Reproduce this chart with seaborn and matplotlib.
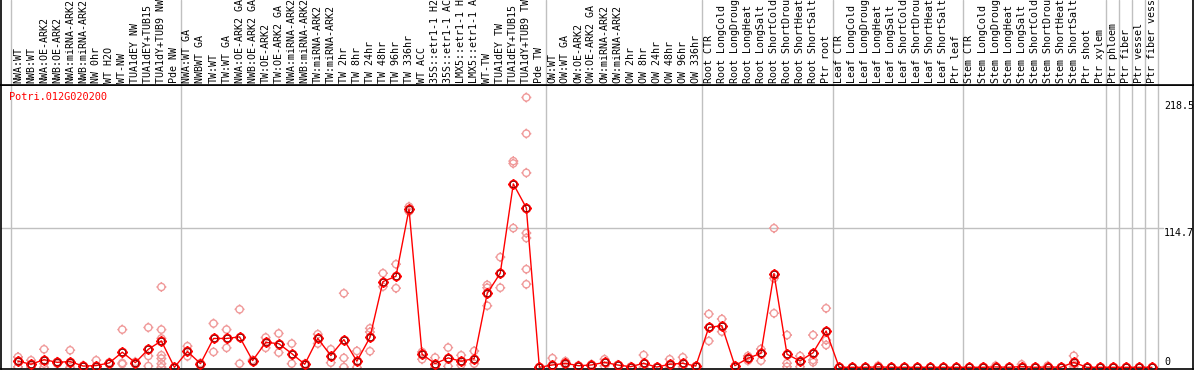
import matplotlib
matplotlib.use("Agg")
import numpy as np
import pandas as pd
import matplotlib.pyplot as plt
from matplotlib.path import Path
import seaborn as sns

gene = "Potri.012G020200"

samples = [
    "NWA:WT", "NWB:WT", "NWA:OE-ARK2", "NWB:OE-ARK2", "NWA:miRNA-ARK2", "NWB:miRNA-ARK2",
    "NW 0hr", "WT H2O", "WT-NW", "TUA1dEY NW", "TUA1dEY+TUB15 NW", "TUA1dY+TUB9 NW", "Pde NW",
    "NWA:WT GA", "NWBWT GA", "TW:WT", "TW:WT GA", "NWA:OE-ARK2 GA", "NWB:OE-ARK2 GA",
    "TW:OE-ARK2", "TW:OE-ARK2 GA", "NWA:miRNA-ARK2 GA", "NWB:miRNA-ARK2 GA", "TW:miRNA-ARK2",
    "TW:miRNA-ARK2", "TW 2hr", "TW 8hr", "TW 24hr", "TW 48hr", "TW 96hr", "TW 336hr", "WT ACC",
    "35S::etr1-1 H2O", "35S::etr1-1 ACC", "LMX5::etr1-1 H2O", "LMX5::etr1-1 ACC", "WT-TW",
    "TUA1dEY TW", "TUA1dEY+TUB15 TW", "TUA1dY+TUB9 TW", "Pde TW",
    "OW:WT", "OW:WT GA", "OW:OE-ARK2", "OW:OE-ARK2 GA", "OW:miRNA-ARK2", "OW:miRNA-ARK2",
    "OW 2hr", "OW 8hr", "OW 24hr", "OW 48hr", "OW 96hr", "OW 336hr",
    "Root CTR", "Root LongCold", "Root LongDrought", "Root LongHeat", "Root LongSalt",
    "Root ShortCold", "Root ShortDrought", "Root ShortHeat", "Root ShortSalt", "Ptr root",
    "Leaf CTR", "Leaf LongCold", "Leaf LongDrought", "Leaf LongHeat", "Leaf LongSalt",
    "Leaf ShortCold", "Leaf ShortDrought", "Leaf ShortHeat", "Leaf ShortSalt", "Ptr leaf",
    "Stem CTR", "Stem LongCold", "Stem LongDrought", "Stem LongHeat", "Stem LongSalt",
    "Stem ShortCold", "Stem ShortDrought", "Stem ShortHeat", "Stem ShortSalt", "Ptr shoot",
    "Ptr xylem", "Ptr phloem", "Ptr fiber", "Ptr vessel", "Ptr fiber vessel",
]

means = [
    5.0, 2.5, 6.3, 4.1, 4.7, 1.0, 1.4, 3.6, 12.4, 3.8, 14.8, 21.7, 0.0,
    13.0, 3.0, 23.7, 23.7, 25.0, 5.5, 20.4, 19.5, 11.3, 2.5, 23.7, 9.6, 22.8, 5.0, 24.5,
    70.4, 74.8, 130.0, 10.7, 3.0, 7.7, 5.0, 7.2, 60.8, 77.3, 150.7, 131.0, 0.0,
    1.9, 3.3, 1.3, 1.9, 4.1, 1.9, 0.5, 3.3, 0.2, 2.5, 3.3, 1.0,
    32.8, 34.2, 1.3, 7.4, 11.5, 77.0, 10.7, 5.2, 12.0, 29.8,
    0.0, 0.0, 0.0, 0.3, 0.0, 0.0, 0.0, 0.0, 0.0, 0.0,
    0.0, 0.0, 0.3, 0.0, 0.6, 0.0, 0.3, 0.0, 4.1, 0.0,
    0.0, 0.0, 0.0, 0.0, 0.0,
]

replicates = [
    [8.5, 5.0, 0.3], [5.8, 1.5, 0.3], [14.8, 3.0, 0.0], [4.5, 3.0], [14.0, 3.0, 0.0],
    [1.5, 0.5], [5.8, 0.0], [4.0, 3.0], [31.0, 3.5, 2.7], [4.5, 3.0], [32.7, 9.3, 1.0],
    [66.0, 31.0, 23.7, 9.9, 7.2, 3.0, 0.0], [0.0],
    [17.3, 9.0], [3.5, 2.5], [36.0, 12.6], [31.0, 16.0], [47.6, 3.0], [6.0, 5.0],
    [24.5, 16.0], [27.8, 12.1], [19.5, 3.0], [3.0, 2.0], [27.2, 19.5], [14.8, 3.8],
    [60.8, 7.7, 0.2], [13.4, 0.0], [32.0, 29.0, 13.2], [77.3, 66.3], [84.7, 65.0],
    [132.0, 128.0], [12.6, 6.6], [8.0, 0.0], [16.2, 0.8], [9.9, 1.9], [13.4, 3.0],
    [67.7, 65.4, 50.6], [90.5, 65.4], [169.4, 167.5, 114.4],
    [221.7, 192.0, 159.8, 110.3, 106.2, 80.6, 68.2], [0.0],
    [7.5, 0.0], [5.0, 2.0], [1.5, 1.0], [1.0, 2.5], [6.6, 1.0], [2.0], [0.5],
    [10.1, 0.0], [0.2], [6.6, 0.0], [8.2, 0.5], [1.0],
    [43.8, 21.6], [39.7, 29.3], [1.3], [9.3, 5.4], [15.0, 5.4], [114.3, 73.1, 44.4],
    [26.5, 3.3, 0.5], [9.3, 0.5], [26.5, 6.0, 4.1], [48.5, 22.4, 18.3],
    [0.0], [0.0], [0.0], [1.3, 0.0], [0.0], [0.0], [0.0], [0.0], [0.0], [0.0],
    [0.0], [0.0], [1.3, 0.0], [0.0], [2.4, 0.0], [0.0], [1.3, 0.0], [0.0], [9.5, 2.5, 0.5], [0.0],
    [0.0], [0.0], [0.0], [0.0], [0.0],
]

group_breaks = [-0.5, 12.5, 40.5, 52.5, 62.5, 72.5, 83.5, 84.5, 85.5, 86.5, 87.5]
ytick_values = [0, 114.7, 218.5]
grid_value = 114.7

W, H = 1194, 370
PX = 13.034          # pixels per sample
X0 = 18              # pixel of first sample
Y0 = 367.3           # pixel of value 0
SY = 1.2171          # pixels per unit

sns.set_style("white")
plt.rcParams['font.family'] = ['DejaVu Sans Mono']


def ring_marker(tick=1.4):
    circ = Path.unit_circle()
    verts = list(circ.vertices)
    codes = list(circ.codes)
    for dx, dy in [(1, 0), (-1, 0), (0, 1), (0, -1)]:
        verts += [(dx, dy), (dx * tick, dy * tick)]
        codes += [Path.MOVETO, Path.LINETO]
    return Path(verts, codes)


ring = ring_marker()
idx = np.arange(len(samples))
rep_df = pd.DataFrame(
    [(i, v) for i, reps in enumerate(replicates) for v in reps], columns=["idx", "value"]
)
mean_df = pd.DataFrame({"idx": idx, "value": means})

fig = plt.figure(figsize=(W / 100, H / 100), dpi=100)
ax = fig.add_axes([1 / W, 1 / H, 1192 / W, 284 / H])
ax_lab = fig.add_axes([1 / W, 285 / H, 1192 / W, 85 / H], sharex=ax)

xmin = (1 - X0) / PX
xmax = (1193 - X0) / PX
ax.set_xlim(xmin, xmax)
ax.set_ylim(-(369 - Y0) / SY, (Y0 - 85) / SY)
ax_lab.set_ylim(0, 1)

for b in group_breaks:
    ax.axvline(b, color="#c0c0c0", lw=1.0, zorder=0)
    ax_lab.axvline(b, color="#c0c0c0", lw=1.0, zorder=0)

grid_end = (1163 - X0) / PX
ax.plot([xmin, grid_end], [grid_value, grid_value], color="#c0c0c0", lw=1.0, zorder=0)

sns.scatterplot(data=rep_df, x="idx", y="value", ax=ax, marker=ring, s=52,
                facecolor="none", edgecolor="#f09a9a", linewidth=1.0, zorder=2)
sns.lineplot(data=mean_df, x="idx", y="value", ax=ax, color="#ff0000", lw=1.0,
             marker=ring, markersize=7.8, markerfacecolor="none",
             markeredgecolor="#ff0000", markeredgewidth=1.3, zorder=3)
ax.plot(idx, means, linestyle="none", marker="o", markersize=4.6,
        markerfacecolor="none", markeredgecolor="#5a0000", markeredgewidth=0.45, zorder=4)

for v in ytick_values:
    ax.text((1164 - X0) / PX, v, f"{v:g}", fontsize=7.2, color="black",
            ha="left", va="bottom" if v == 0 else "top")

ax.text(8.3 / 1192, 0.975, gene, transform=ax.transAxes, color="#ff0000",
        fontsize=7.4, ha="left", va="top")

for i, name in enumerate(samples):
    ax_lab.text(i, 2 / 85, name, rotation=90, ha="center", va="bottom",
                fontsize=7.2, color="black", clip_on=False)

for a in (ax, ax_lab):
    a.set_xlabel("")
    a.set_ylabel("")
    a.set_xticks([])
    a.set_yticks([])
    for s in a.spines.values():
        s.set_color("black")
        s.set_linewidth(1.2)
ax_lab.spines["top"].set_visible(False)

fig.savefig("out.png", dpi=100)
